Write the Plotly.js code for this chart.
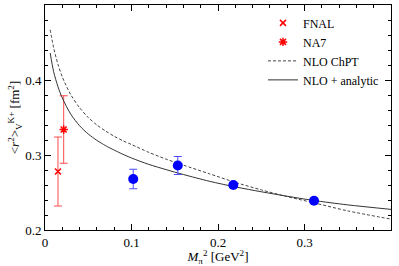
<!DOCTYPE html>
<html>
<head>
<meta charset="utf-8">
<script src="https://cdn.plot.ly/plotly-3.0.1.min.js"></script>
<style>html,body{margin:0;padding:0;background:#fff;}#chart{width:399px;height:266px;}</style>
</head>
<body>
<div id="chart"></div>
<script>
// Experimental points
const fnalX = [0.015];
const fnalY = [0.278];
const fnalErr = [0.046];
const na7X = [0.0216];
const na7Y = [0.334];
const na7Err = [0.045];
// Lattice points
const latX = [0.102, 0.1535, 0.2177, 0.311];
const latY = [0.268, 0.286, 0.260, 0.239];
const latErr = [0.013, 0.012, 0.003, 0.003];
// NLO ChPT (dashed)
const chptX = [0.006, 0.01, 0.015, 0.02, 0.03, 0.04, 0.05, 0.06, 0.07, 0.08, 0.09, 0.1, 0.12, 0.14, 0.16, 0.19, 0.22, 0.25, 0.28, 0.31, 0.35, 0.4];
const chptY = [0.467, 0.443, 0.421, 0.404, 0.380, 0.363, 0.350, 0.340, 0.332, 0.325, 0.319, 0.314, 0.3035, 0.2945, 0.2865, 0.275, 0.2635, 0.2535, 0.2445, 0.2365, 0.2255, 0.2145];
// NLO + analytic (solid)
const anaX = [0.006, 0.01, 0.015, 0.02, 0.03, 0.04, 0.05, 0.06, 0.07, 0.08, 0.09, 0.1, 0.12, 0.14, 0.16, 0.19, 0.22, 0.25, 0.28, 0.31, 0.35, 0.4];
const anaY = [0.436, 0.411, 0.391, 0.376, 0.354, 0.339, 0.328, 0.3195, 0.3125, 0.3065, 0.301, 0.296, 0.2875, 0.2805, 0.274, 0.265, 0.2575, 0.251, 0.245, 0.2395, 0.2335, 0.2275];

const serif = "Liberation Serif, Times New Roman, serif";
const traces = [
  {x: fnalX, y: fnalY, name: 'FNAL', type: 'scatter', mode: 'markers',
   marker: {symbol: 'x-thin-open', size: 6, color: '#ff0000', line: {width: 1.5, color: '#ff0000'}},
   error_y: {type: 'data', array: fnalErr, visible: true, color: '#ff4c4c', thickness: 1, width: 4}},
  {x: na7X, y: na7Y, name: 'NA7', type: 'scatter', mode: 'markers',
   marker: {symbol: 'asterisk-open', size: 7, color: '#ff0000', line: {width: 1.5, color: '#ff0000'}},
   error_y: {type: 'data', array: na7Err, visible: true, color: '#ff4c4c', thickness: 1, width: 4}},
  {x: chptX, y: chptY, name: 'NLO ChPT', type: 'scatter', mode: 'lines',
   line: {color: '#444', width: 1, dash: '3px,2px', shape: 'spline', smoothing: 0.8}},
  {x: anaX, y: anaY, name: 'NLO + analytic', type: 'scatter', mode: 'lines',
   line: {color: '#333', width: 1, shape: 'spline', smoothing: 0.8}},
  {x: latX, y: latY, name: 'lattice', type: 'scatter', mode: 'markers', showlegend: false,
   marker: {symbol: 'circle', size: 10, color: '#0000ff'},
   error_y: {type: 'data', array: latErr, visible: true, color: '#4c4cff', thickness: 1, width: 4}}
];

const axCommon = {
  showline: true, linecolor: '#000', linewidth: 1, mirror: 'ticks',
  ticks: 'inside', ticklen: 6, tickcolor: '#000', tickwidth: 1,
  showgrid: false, zeroline: false,
  tickfont: {family: serif, size: 13, color: '#000'}
};

const layout = {
  width: 399, height: 266,
  margin: {l: 45, r: 8, t: 5, b: 36},
  paper_bgcolor: '#fff', plot_bgcolor: '#fff',
  showlegend: true,
  legend: {x: 0.63, y: 0.985, xanchor: 'left', yanchor: 'top', bgcolor: 'rgba(0,0,0,0)',
    font: {family: serif, size: 12, color: '#000'}, tracegroupgap: 0, itemwidth: 30},
  xaxis: Object.assign({}, axCommon, {
    range: [0, 0.4], tickvals: [0, 0.1, 0.2, 0.3, 0.4], ticktext: ['0', '0.1', '0.2', '0.3', '0.4'],
    minor: {dtick: 0.02, ticks: 'inside', ticklen: 3, tickcolor: '#000'},
    title: {text: '<i>M</i><sub>π</sub><sup>2</sup> [GeV<sup>2</sup>]', font: {family: serif, size: 13, color: '#000'}, standoff: 4}
  }),
  yaxis: Object.assign({}, axCommon, {
    range: [0.2, 0.5], tickvals: [0.2, 0.3, 0.4, 0.5], ticktext: ['0.2', '0.3', '0.4', '0.5'],
    minor: {dtick: 0.02, ticks: 'inside', ticklen: 3, tickcolor: '#000'},
    title: {text: '&lt;<i>r</i><sup>2</sup>&gt;<sub>V</sub><sup>K+</sup> [fm<sup>2</sup>]', font: {family: serif, size: 13, color: '#000'}, standoff: 2}
  })
};

Plotly.newPlot('chart', traces, layout, {displayModeBar: false, staticPlot: true});
</script>
</body>
</html>
